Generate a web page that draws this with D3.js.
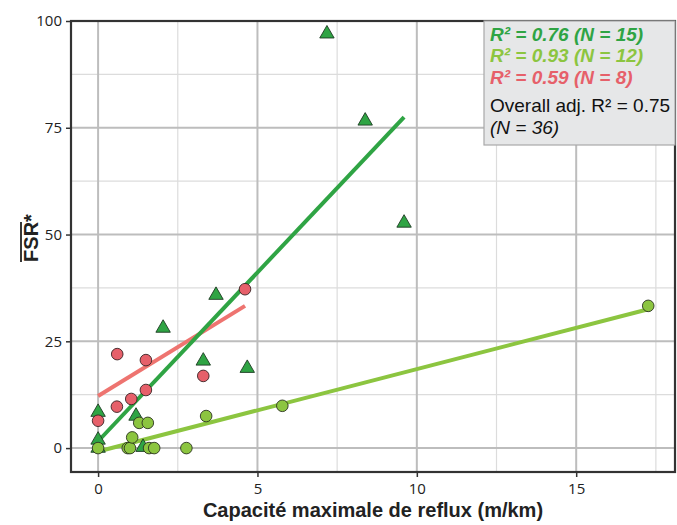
<!DOCTYPE html>
<html>
<head>
<meta charset="utf-8">
<script src="https://cdn.jsdelivr.net/npm/d3@7"></script>
<style>
  body { margin: 0; background: #fff; }
  text { font-family: "Liberation Sans", Arial, sans-serif; }
</style>
</head>
<body>
<div id="chart"></div>
<script>
// data
const triX = [0, 0, 0, 1.19, 1.41, 2.04, 3.3, 3.7, 4.68, 7.18, 8.38, 9.6];
const triY = [0, 1.9, 8.4, 7.5, 0.2, 28.1, 20.4, 35.8, 18.7, 97, 76.6, 52.7];

const lgX = [0, 0.93, 1.0, 1.07, 1.29, 1.56, 1.6, 1.76, 2.77, 3.39, 5.78, 17.26];
const lgY = [0, 0, 0, 2.5, 5.9, 5.9, 0, 0, 0, 7.5, 9.9, 33.3];

const redX = [0, 0.59, 0.6, 1.04, 1.5, 1.5, 3.3, 4.61];
const redY = [6.4, 9.7, 22, 11.5, 13.6, 20.6, 16.9, 37.2];

// fitted lines (ends)
const fitDark = [[0, 1.6], [9.6, 77.5]];
const fitLight = [[0, -0.8], [17.26, 32.5]];
const fitRed = [[0, 12.2], [4.61, 33.3]];

const xTicks = [0, 5, 10, 15];
const yTicks = [0, 25, 50, 75, 100];
const xMinor = [2.5, 7.5, 12.5, 17.5];
const yMinor = [12.5, 37.5, 62.5, 87.5];

const legendLines = [
  {t: "R² = 0.76 (N = 15)", c: "#2fa444", bold: true, it: true},
  {t: "R² = 0.93 (N = 12)", c: "#8cc540", bold: true, it: true},
  {t: "R² = 0.59 (N = 8)", c: "#e6606a", bold: true, it: true},
  {t: "Overall adj. R² = 0.75", c: "#111", bold: false, it: false},
  {t: "(N = 36)", c: "#111", bold: false, it: true}
];

const W = 677, H = 525;
const L = 71, R = 675, T = 21, B = 472;

const svg = d3.select("#chart").append("svg")
    .attr("width", W).attr("height", H);

const x = d3.scaleLinear().domain([-0.85, 18.1]).range([L, R]);
const y = d3.scaleLinear().domain([-5.6, 100]).range([B, T]);

// grid
const grid = svg.append("g");
xMinor.forEach(v => grid.append("line")
    .attr("x1", x(v)).attr("x2", x(v)).attr("y1", T).attr("y2", B)
    .attr("stroke", "#dcdcdc").attr("stroke-width", 1.2));
yMinor.forEach(v => grid.append("line")
    .attr("x1", L).attr("x2", R).attr("y1", y(v)).attr("y2", y(v))
    .attr("stroke", "#dcdcdc").attr("stroke-width", 1.2));
xTicks.forEach(v => grid.append("line")
    .attr("x1", x(v)).attr("x2", x(v)).attr("y1", T).attr("y2", B)
    .attr("stroke", "#bdbdbd").attr("stroke-width", 2));
yTicks.forEach(v => grid.append("line")
    .attr("x1", L).attr("x2", R).attr("y1", y(v)).attr("y2", y(v))
    .attr("stroke", "#bdbdbd").attr("stroke-width", 2));

// axes
const xAxis = svg.append("g")
    .attr("transform", `translate(0,${B})`)
    .call(d3.axisBottom(x).tickValues(xTicks).tickSize(5).tickPadding(6));
const yAxis = svg.append("g")
    .attr("transform", `translate(${L},0)`)
    .call(d3.axisLeft(y).tickValues(yTicks).tickSize(5).tickPadding(4));
[xAxis, yAxis].forEach(a => {
  a.select(".domain").remove();
  a.selectAll(".tick line").attr("stroke", "#333").attr("stroke-width", 1.5);
  a.selectAll(".tick text").attr("fill", "#222")
    .style("font-family", "'Open Sans', sans-serif").style("font-size", "15px");
});

// frame
svg.append("rect")
    .attr("x", L).attr("y", T).attr("width", R - L).attr("height", B - T)
    .attr("fill", "none").attr("stroke", "#333").attr("stroke-width", 2.2);

// fit lines
const line = d3.line().x(d => x(d[0])).y(d => y(d[1]));
svg.append("path").datum(fitRed).attr("d", line)
    .attr("stroke", "#ee7470").attr("stroke-width", 4).attr("fill", "none");
svg.append("path").datum(fitDark).attr("d", line)
    .attr("stroke", "#2fa444").attr("stroke-width", 4).attr("fill", "none");
svg.append("path").datum(fitLight).attr("d", line)
    .attr("stroke", "#8cc540").attr("stroke-width", 4).attr("fill", "none");

// points
const tri = d3.symbol().type(d3.symbolTriangle).size(90);
svg.append("g").selectAll("path").data(d3.range(triX.length)).join("path")
    .attr("d", tri)
    .attr("transform", i => `translate(${x(triX[i])},${y(triY[i])})`)
    .attr("fill", "#2fa444").attr("stroke", "#1d3a22").attr("stroke-width", 0.9);

svg.append("g").selectAll("circle").data(d3.range(lgX.length)).join("circle")
    .attr("cx", i => x(lgX[i])).attr("cy", i => y(lgY[i])).attr("r", 5.8)
    .attr("fill", "#8cc540").attr("stroke", "#2b3320").attr("stroke-width", 0.9);

svg.append("g").selectAll("circle").data(d3.range(redX.length)).join("circle")
    .attr("cx", i => x(redX[i])).attr("cy", i => y(redY[i])).attr("r", 5.8)
    .attr("fill", "#e6606a").attr("stroke", "#3a2224").attr("stroke-width", 0.9);

// legend box
const lg = svg.append("g");
lg.append("rect")
    .attr("x", 484).attr("y", 21).attr("width", 191).attr("height", 124)
    .attr("fill", "#e6e7e8").attr("stroke", "#a8a8a8").attr("stroke-width", 1.2);
const lgBase = [41, 62, 84, 112, 134];
legendLines.forEach((d, i) => {
  lg.append("text").attr("x", 490).attr("y", lgBase[i])
    .attr("fill", d.c)
    .style("font-size", "19px")
    .style("font-weight", d.bold ? "bold" : "normal")
    .style("font-style", d.it ? "italic" : "normal")
    .text(d.t);
});

// axis titles
svg.append("text")
    .attr("x", (L + R) / 2).attr("y", 517)
    .attr("text-anchor", "middle")
    .style("font-size", "20px").style("font-weight", "bold").attr("fill", "#222")
    .text("Capacité maximale de reflux (m/km)");

const yl = svg.append("g").attr("transform", `translate(38,238) rotate(-90)`);
const ylt = yl.append("text").attr("x", 0).attr("y", 0)
    .attr("text-anchor", "middle")
    .style("font-size", "20px").style("font-weight", "bold").attr("fill", "#222")
    .text("FSR*");
const bb = ylt.node().getBBox();
yl.append("line")
    .attr("x1", bb.x).attr("x2", bb.x + bb.width - 8)
    .attr("y1", bb.y + 1).attr("y2", bb.y + 1)
    .attr("stroke", "#222").attr("stroke-width", 1.8);
</script>
</body>
</html>
